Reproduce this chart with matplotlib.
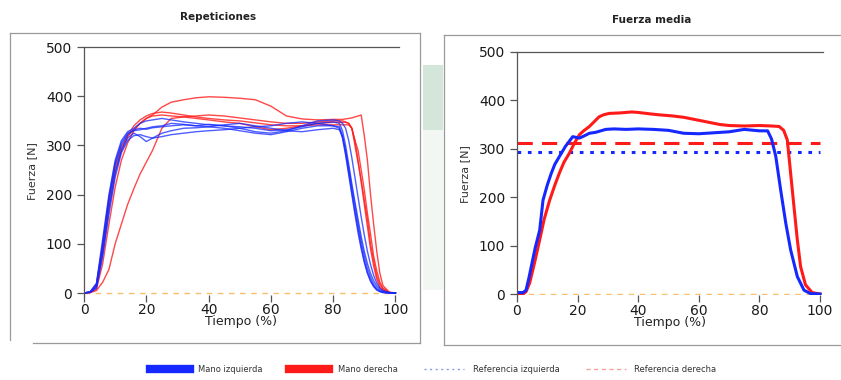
import matplotlib.pyplot as plt
from matplotlib.lines import Line2D
from matplotlib.patches import Rectangle

# --- datos: repeticiones (panel izquierdo) ---
x_rep = [0, 2, 4, 6, 8, 10, 12, 14, 16, 18, 20, 22, 25, 28, 32, 36, 40, 45, 50, 55, 60, 65, 70,
         75, 80, 82, 83, 84, 85, 86, 87, 88, 89, 90, 91, 92, 93, 94, 95, 96, 98, 100]

izq_reps = [
    [0, 2, 15, 95, 185, 260, 300, 322, 332, 335, 333, 336, 338, 340, 342, 340, 343, 340, 338, 335, 330,
     332, 338, 345, 348, 345, 330, 300, 262, 222, 185, 150, 115, 85, 60, 40, 25, 14, 7, 3, 1, 0],
    [0, 3, 20, 110, 200, 270, 310, 328, 335, 345, 350, 352, 355, 352, 348, 345, 342, 340, 335, 328, 325,
     330, 340, 350, 352, 350, 345, 335, 310, 275, 235, 195, 155, 118, 85, 58, 36, 20, 10, 5, 1, 0],
    [0, 2, 12, 80, 170, 245, 290, 315, 325, 318, 308, 315, 325, 330, 335, 336, 338, 335, 330, 325, 322,
     328, 335, 340, 340, 338, 320, 285, 245, 205, 165, 130, 95, 65, 42, 25, 14, 7, 3, 1, 0, 0],
    [0, 1, 10, 75, 160, 235, 285, 310, 320, 322, 318, 315, 318, 322, 325, 328, 330, 332, 335, 338, 340,
     345, 348, 345, 340, 335, 315, 280, 240, 200, 160, 122, 90, 62, 40, 24, 13, 6, 3, 1, 0, 0],
    [0, 2, 18, 100, 195, 265, 305, 325, 330, 332, 335, 338, 340, 345, 343, 340, 338, 342, 345, 340, 335,
     330, 328, 332, 335, 332, 318, 290, 255, 215, 178, 140, 105, 75, 50, 32, 18, 9, 4, 2, 0, 0],
]

der_reps = [
    [0, 1, 8, 60, 140, 215, 270, 305, 330, 345, 355, 362, 378, 388, 393, 397, 399, 398, 396, 393, 380,
     360, 354, 352, 353, 353, 353, 354, 355, 356, 358, 360, 362, 320, 270, 200, 140, 85, 40, 15, 2, 0],
    [0, 1, 5, 22, 48, 100, 140, 180, 212, 242, 266, 290, 335, 355, 358, 360, 362, 360, 356, 352, 348,
     345, 345, 348, 350, 350, 350, 348, 345, 335, 310, 270, 225, 180, 135, 90, 55, 28, 12, 5, 1, 0],
    [0, 2, 15, 85, 175, 245, 290, 320, 340, 352, 360, 365, 368, 366, 362, 358, 355, 352, 350, 346, 342,
     340, 340, 342, 342, 342, 342, 342, 342, 335, 300, 265, 230, 190, 150, 100, 65, 35, 18, 8, 1, 0],
    [0, 2, 18, 100, 190, 255, 295, 318, 332, 345, 355, 360, 362, 360, 358, 355, 352, 348, 345, 338, 332,
     335, 340, 345, 347, 347, 347, 347, 345, 335, 310, 290, 250, 210, 162, 120, 75, 45, 22, 10, 1, 0],
]

# --- datos: fuerza media (panel derecho) ---
x_izq_media = [0, 2, 3, 4, 6, 7.5, 8.6, 10, 11.3, 12.5, 14, 16, 18.4, 20.6, 22, 23.9, 26, 29.3, 32, 36,
               40, 45, 50, 55, 60, 65, 70, 75, 80, 82.7, 84, 85.4, 87, 88.7, 90.3, 92.5, 94.7, 96.8, 100]
izq_media = [3, 3, 8, 35, 95, 132, 194, 225, 249, 268, 284, 305, 325, 322, 326, 332, 334, 340, 341, 340,
             341, 340, 338, 332, 331, 333, 335, 340, 337, 337, 320, 284, 215, 146, 91, 36, 8, 1, 0]

x_der_media = [0, 2, 3, 4.2, 6, 7.5, 9, 10.8, 12.5, 14, 15.5, 17.3, 19, 20.6, 22, 23.9, 25.5, 27.1, 28.5,
               30.4, 34, 37.9, 40, 44, 47, 51, 55, 59, 63, 67, 70, 75, 80, 84, 86.5, 88, 89.2, 90.3, 91.4,
               92.5, 93.6, 95.2, 97.4, 100]
der_media = [0, 0, 5, 23, 70, 112, 155, 194, 225, 250, 272, 291, 312, 329, 337, 346, 356, 366, 370,
             373, 374, 376, 375, 372, 370, 368, 365, 360, 355, 350, 348, 347, 348, 347, 346, 338, 318, 249, 180,
             112, 56, 19, 3, 0]

ref_izq = 293
ref_der = 312

AZUL = '#1428ff'
ROJO = '#ff1a1a'
NARANJA = '#f6c06e'

fig = plt.figure(figsize=(8.41, 3.80), dpi=100)
W, H = 841, 380


def estilo(ax):
    ax.set_xlim(0, 101)
    ax.set_ylim(-3, 500)
    ax.set_xticks([0, 20, 40, 60, 80, 100])
    ax.set_yticks([0, 100, 200, 300, 400, 500])
    ax.spines['right'].set_visible(False)
    ax.spines['bottom'].set_visible(False)
    ax.spines['top'].set_color('#555555')
    ax.spines['left'].set_color('#555555')
    ax.spines['top'].set_linewidth(0.9)
    ax.spines['left'].set_linewidth(0.9)
    ax.tick_params(axis='both', labelsize=10, colors='#555555', labelcolor='#1a1a1a',
                   length=5, width=0.9)
    ax.tick_params(axis='x', pad=1)
    ax.set_xlabel('Tiempo (%)', fontsize=9, color='#222222', labelpad=-1)
    ax.set_ylabel('Fuerza [N]', fontsize=8, color='#333333', labelpad=6)
    ax.plot([0, 100], [0, 0], color=NARANJA, lw=1.0, ls=(0, (4, 4)))


# panel izquierdo
ax1 = fig.add_axes([0.0999, 0.225, 0.374, 0.651])
estilo(ax1)
for ys in der_reps:
    ax1.plot(x_rep, ys, color=ROJO, lw=1.0, alpha=0.8)
for ys in izq_reps:
    ax1.plot(x_rep, ys, color=AZUL, lw=1.0, alpha=0.75)

# panel derecho
ax2 = fig.add_axes([0.6147, 0.2224, 0.364, 0.641])
estilo(ax2)
ax2.plot([0, 100], [ref_der, ref_der], color=ROJO, lw=2.2, ls=(0, (5, 3)))
ax2.plot([0, 100], [ref_izq, ref_izq], color=AZUL, lw=2.2, ls=(0, (1.2, 2.2)))
ax2.plot(x_der_media, der_media, color=ROJO, lw=2.2)
ax2.plot(x_izq_media, izq_media, color=AZUL, lw=2.2)

# titulos
fig.text(218 / W, 1 - 17 / H, 'Repeticiones', ha='center', va='center', fontsize=7.5,
         fontweight='bold', color='#222222')
fig.text(652 / W, 1 - 20 / H, 'Fuerza media', ha='center', va='center', fontsize=7.5,
         fontweight='bold', color='#222222')


# marcos de los paneles
def linea(x0, y0, x1, y1):
    fig.add_artist(Line2D([x0 / W, x1 / W], [1 - y0 / H, 1 - y1 / H], color='#9a9a9a', lw=0.9))


linea(10, 33, 420, 33)
linea(10, 33, 10, 340)
linea(420, 33, 420, 343)
linea(33, 343, 420, 343)
linea(444, 35, 841, 35)
linea(444, 35, 444, 345)
linea(444, 345, 841, 345)

# franja verdosa entre paneles (escaneo)
fig.add_artist(Rectangle((423 / W, 1 - 130 / H), 20 / W, 65 / H, transform=fig.transFigure,
                         color='#c3dccb', alpha=0.7, lw=0))
fig.add_artist(Rectangle((423 / W, 1 - 290 / H), 20 / W, 160 / H, transform=fig.transFigure,
                         color='#eaf3ec', alpha=0.6, lw=0))

# leyenda
handles = [Line2D([], [], color=AZUL, lw=6),
           Line2D([], [], color=ROJO, lw=6),
           Line2D([], [], color='#8a9ee6', lw=1, ls=(0, (1.5, 2.5))),
           Line2D([], [], color='#f2a0a0', lw=1, ls=(0, (3, 2.5)))]
labels = ['Mano izquierda', 'Mano derecha', 'Referencia izquierda', 'Referencia derecha']
leg = fig.legend(handles, labels, loc='center', bbox_to_anchor=(0.515, 0.027), ncol=4,
                 frameon=False, fontsize=6, handlelength=4.8, handletextpad=1.0,
                 columnspacing=3.2)
for t in leg.get_texts():
    t.set_color('#333333')

fig.savefig('out.png', dpi=100)
